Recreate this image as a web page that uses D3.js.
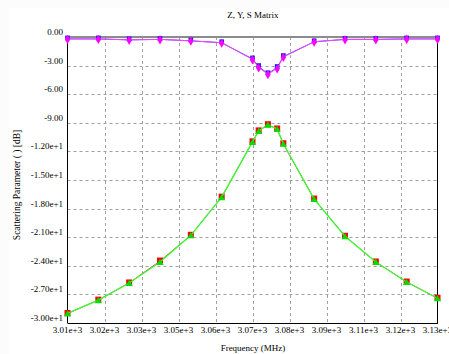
<!doctype html>
<html>
<head>
<style>
  body { margin: 0; background: #fcfcfc; }
  text { font-family: "Liberation Serif", "DejaVu Serif", serif; fill: #000; }
  .grid line { stroke: #a0a0a0; stroke-dasharray: 3,3; }
</style>
<script src="https://d3js.org/d3.v7.min.js"></script>
</head>
<body>
<svg width="449" height="354"></svg>
<script>
// frequency points (MHz)
var freq = [3010, 3020, 3030, 3040, 3050, 3060, 3070, 3072, 3075, 3078, 3080, 3090, 3100, 3110, 3120, 3130];

// S11 (two overlaid traces)
var s11a = [-0.2, -0.2, -0.3, -0.25, -0.4, -0.6, -2.35, -3.2, -3.9, -3.3, -2.1, -0.5, -0.25, -0.25, -0.2, -0.2];
var s11b = [-0.2, -0.2, -0.3, -0.25, -0.4, -0.6, -2.3, -3.1, -3.85, -3.2, -2.05, -0.5, -0.25, -0.25, -0.2, -0.2];

// S21 (two overlaid traces)
var s21a = [-29.0, -27.6, -25.8, -23.5, -20.8, -16.8, -11.0, -9.85, -9.2, -9.65, -11.2, -17.0, -20.9, -23.6, -25.7, -27.4];
var s21b = [-29.0, -27.6, -25.8, -23.6, -20.8, -16.8, -11.0, -9.85, -9.2, -9.65, -11.2, -17.0, -20.9, -23.6, -25.7, -27.4];

var xTicks = [3010, 3022, 3034, 3046, 3058, 3070, 3082, 3094, 3106, 3118, 3130];
var xTickLabels = ["3.01e+3", "3.02e+3", "3.03e+3", "3.05e+3", "3.06e+3", "3.07e+3", "3.08e+3", "3.09e+3", "3.11e+3", "3.12e+3", "3.13e+3"];
var yTicks = [0, -3, -6, -9, -12, -15, -18, -21, -24, -27, -30];
var yTickLabels = ["0.00", "-3.00", "-6.00", "-9.00", "-1.20e+1", "-1.50e+1", "-1.80e+1", "-2.10e+1", "-2.40e+1", "-2.70e+1", "-3.00e+1"];

var svg = d3.select("svg");
svg.append("rect").attr("x", 9).attr("y", 8).attr("width", 440).attr("height", 346).attr("fill", "#fff");

var pLeft = 67.5, pRight = 437.5, pTop = 37, pBottom = 323;
var x = d3.scaleLinear().domain([3010, 3130]).range([pLeft, pRight]);
var y = d3.scaleLinear().domain([0, -30]).range([pTop, pBottom]);

// grid
var grid = svg.append("g").attr("class", "grid");
grid.selectAll(".vx").data(xTicks.slice(1, -1)).enter().append("line")
  .attr("x1", function(d) { return Math.round(x(d)) + 0.5; })
  .attr("x2", function(d) { return Math.round(x(d)) + 0.5; })
  .attr("y1", pTop).attr("y2", pBottom);
grid.selectAll(".hy").data(yTicks.slice(1, -1)).enter().append("line")
  .attr("y1", function(d) { return Math.round(y(d)) + 0.5; })
  .attr("y2", function(d) { return Math.round(y(d)) + 0.5; })
  .attr("x1", pLeft).attr("x2", pRight);

// frame
svg.append("line").attr("x1", pLeft).attr("x2", pRight).attr("y1", pTop).attr("y2", pTop)
  .attr("stroke", "#8c8c8c").attr("stroke-width", 2);
svg.append("line").attr("x1", pLeft).attr("x2", pLeft).attr("y1", pTop - 1).attr("y2", pBottom)
  .attr("stroke", "#000");
svg.append("line").attr("x1", pRight).attr("x2", pRight).attr("y1", pTop - 1).attr("y2", pBottom)
  .attr("stroke", "#000");
svg.append("line").attr("x1", pLeft).attr("x2", pRight + 0.5).attr("y1", pBottom + 0.5).attr("y2", pBottom + 0.5)
  .attr("stroke", "#000");

// tick labels
svg.selectAll(".xl").data(xTicks).enter().append("text")
  .attr("x", function(d) { return x(d); })
  .attr("y", 333)
  .attr("text-anchor", "middle")
  .attr("font-size", "9px")
  .text(function(d, i) { return xTickLabels[i]; });
svg.selectAll(".yl").data(yTicks).enter().append("text")
  .attr("x", 63)
  .attr("y", function(d) { return y(d) - 2; })
  .attr("text-anchor", "end")
  .attr("font-size", "9px")
  .text(function(d, i) { return yTickLabels[i]; });

// titles
svg.append("text").attr("x", 253).attr("y", 18).attr("text-anchor", "middle")
  .attr("font-size", "9px").text("Z, Y, S Matrix");
svg.append("text").attr("x", 253).attr("y", 351).attr("text-anchor", "middle")
  .attr("font-size", "9px").text("Frequency (MHz)");
svg.append("text").attr("transform", "translate(20,185) rotate(-90)").attr("text-anchor", "middle")
  .attr("font-size", "9.5px").text("Scattering Parameter ( ) [dB]");

var line = d3.line()
  .x(function(d, i) { return x(freq[i]); })
  .y(function(d) { return y(d); });

var plot = svg.append("g");

// S21 traces
plot.append("path").datum(s21a).attr("d", line).attr("fill", "none").attr("stroke", "#ff3030").attr("stroke-width", 1);
plot.selectAll(".s21a").data(s21a).enter().append("rect")
  .attr("x", function(d, i) { return x(freq[i]) - 3; })
  .attr("y", function(d) { return y(d) - 3.5; })
  .attr("width", 6).attr("height", 6).attr("fill", "#ff0000");
plot.append("path").datum(s21b).attr("d", line).attr("fill", "none").attr("stroke", "#33ff33").attr("stroke-width", 1.3);
plot.selectAll(".s21b").data(s21b).enter().append("path")
  .attr("transform", function(d, i) { return "translate(" + x(freq[i]) + "," + (y(d) + 1) + ")"; })
  .attr("d", d3.symbol().type(d3.symbolTriangle).size(22))
  .attr("fill", "#00dd00");

// S11 traces
plot.append("path").datum(s11b).attr("d", line).attr("fill", "none").attr("stroke", "#4040ff").attr("stroke-width", 1);
plot.selectAll(".s11b").data(s11b).enter().append("path")
  .attr("transform", function(d, i) { return "translate(" + x(freq[i]) + "," + (y(d) - 1) + ")"; })
  .attr("d", d3.symbol().type(d3.symbolSquare).size(22))
  .attr("fill", "#2020ff");
plot.append("path").datum(s11a).attr("d", line).attr("fill", "none").attr("stroke", "#ff40ff").attr("stroke-width", 1);
plot.selectAll(".s11a").data(s11a).enter().append("path")
  .attr("transform", function(d, i) { return "translate(" + x(freq[i]) + "," + (y(d) + 0.5) + ")"; })
  .attr("d", d3.symbol().type(d3.symbolDiamond).size(24))
  .attr("fill", "#ff00ff");
</script>
</body>
</html>
